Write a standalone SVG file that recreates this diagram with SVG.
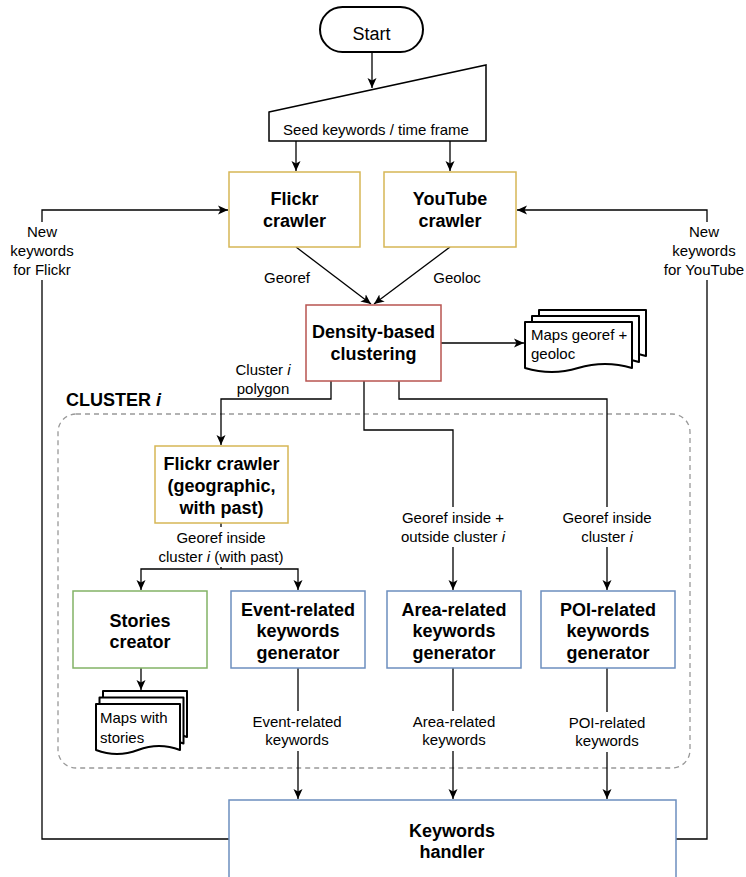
<svg xmlns="http://www.w3.org/2000/svg" width="746" height="877" viewBox="0 0 746 877">
<defs>
<marker id="arr" markerWidth="12" markerHeight="10" refX="10" refY="5" orient="auto" markerUnits="userSpaceOnUse">
<path d="M0,0.5 L10,5 L0,9.5 L2.5,5 Z" fill="#000"/>
</marker>
<style>
text{font-family:"Liberation Sans",Arial,Helvetica,sans-serif;fill:#000}
.b{font-size:18px;font-weight:bold;text-anchor:middle}
.l{font-size:15px;text-anchor:middle}
.d{font-size:15px}
.box{fill:#fff;stroke-width:1.5}
.y{stroke:#d6b656}.r{stroke:#b85450}.g{stroke:#82b366}.bl{stroke:#6c8ebf}
.e{fill:none;stroke:#000;stroke-width:1.3}
.ea{fill:none;stroke:#000;stroke-width:1.3;marker-end:url(#arr)}
.doc{fill:#fff;stroke:#000;stroke-width:2;stroke-linejoin:round}
.bg{fill:#fff}
</style>
</defs>
<rect width="746" height="877" fill="#fff"/>

<g id="cluster-container">
<rect x="58" y="414" width="632" height="354" rx="18" fill="none" stroke="#999" stroke-width="1.3" stroke-dasharray="5 4"/>
<text x="66" y="406" style="font-size:18px;font-weight:bold">CLUSTER <tspan font-style="italic">i</tspan></text>
</g>

<g id="connectors">
<path class="ea" d="M372,52 V88"/>
<path class="ea" d="M296,141 V171"/>
<path class="ea" d="M450,141 V171"/>
<path class="ea" d="M296,247 L371,304"/>
<path class="ea" d="M450,247 L374,304"/>
<path class="ea" d="M441,343 H524"/>
<path class="ea" d="M331,381 V399 H221 V445"/>
<path class="ea" d="M364,381 V430 H453 V590"/>
<path class="ea" d="M399,381 V399 H607 V590"/>
<path class="e" d="M221,523 V569"/>
<path class="ea" d="M221,569 H141 V590"/>
<path class="ea" d="M221,569 H298 V590"/>
<path class="ea" d="M141,668 V690"/>
<path class="ea" d="M298,668 V799"/>
<path class="ea" d="M453,668 V799"/>
<path class="ea" d="M607,668 V799"/>
<path class="ea" d="M229,839 H42 V210 H228"/>
<path class="ea" d="M676,839 H707 V210 H517"/>
</g>

<g id="edge-labels">
<rect class="bg" x="10" y="222" width="65" height="58"/>
<text class="l" x="42" y="237">New</text>
<text class="l" x="42" y="256">keywords</text>
<text class="l" x="42" y="275">for Flickr</text>
<rect class="bg" x="664" y="222" width="82" height="58"/>
<text class="l" x="704" y="237">New</text>
<text class="l" x="704" y="256">keywords</text>
<text class="l" x="704" y="275">for YouTube</text>
<text class="l" x="287" y="283">Georef</text>
<text class="l" x="457" y="283">Geoloc</text>
<text class="l" x="263" y="375">Cluster <tspan font-style="italic">i</tspan></text>
<text class="l" x="263" y="394">polygon</text>
<rect class="bg" x="394" y="507" width="118" height="40"/>
<text class="l" x="453" y="523">Georef inside +</text>
<text class="l" x="453" y="542">outside cluster <tspan font-style="italic">i</tspan></text>
<rect class="bg" x="560" y="507" width="94" height="40"/>
<text class="l" x="607" y="523">Georef inside</text>
<text class="l" x="607" y="542">cluster <tspan font-style="italic">i</tspan></text>
<rect class="bg" x="156" y="527" width="130" height="40"/>
<text class="l" x="221" y="543">Georef inside</text>
<text class="l" x="221" y="562">cluster <tspan font-style="italic">i</tspan> (with past)</text>
<rect class="bg" x="250" y="711" width="96" height="40"/>
<text class="l" x="297" y="727">Event-related</text>
<text class="l" x="297" y="745">keywords</text>
<rect class="bg" x="410" y="711" width="88" height="40"/>
<text class="l" x="454" y="727">Area-related</text>
<text class="l" x="454" y="745">keywords</text>
<rect class="bg" x="566" y="712" width="82" height="40"/>
<text class="l" x="607" y="728">POI-related</text>
<text class="l" x="607" y="746">keywords</text>
</g>

<g id="start">
<rect x="320" y="7" width="103" height="45" rx="22.5" fill="#fff" stroke="#000" stroke-width="2"/>
<text x="371.5" y="39.5" style="font-size:18px;text-anchor:middle">Start</text>
</g>

<g id="seed">
<polygon points="269,112 486,65 486,141 269,141" fill="#fff" stroke="#000" stroke-width="1.5"/>
<text class="l" x="376" y="135">Seed keywords / time frame</text>
</g>

<g id="flickr-crawler">
<rect class="box y" x="229" y="172" width="131" height="75"/>
<text class="b" x="294.5" y="205">Flickr</text>
<text class="b" x="294.5" y="227">crawler</text>
</g>

<g id="youtube-crawler">
<rect class="box y" x="384" y="172" width="132" height="75"/>
<text class="b" x="450" y="205">YouTube</text>
<text class="b" x="450" y="227">crawler</text>
</g>

<g id="clustering">
<rect class="box r" x="306" y="305" width="135" height="76"/>
<text class="b" x="373.5" y="338">Density-based</text>
<text class="b" x="373.5" y="360">clustering</text>
</g>

<g id="maps-georef">
<path class="doc" d="M539,310 H646 V356 Q619,348 592,356 Q566,364 539,356 Z"/>
<path class="doc" d="M532,316 H639 V362 Q612,354 585,362 Q559,370 532,362 Z"/>
<path class="doc" d="M525,322 H632 V368 Q605,360 578,368 Q552,376 525,368 Z"/>
<text class="d" x="531" y="340">Maps georef +</text>
<text class="d" x="531" y="359">geoloc</text>
</g>

<g id="flickr-geo">
<rect class="box y" x="155" y="446" width="133" height="77"/>
<text class="b" x="221.5" y="470">Flickr crawler</text>
<text class="b" x="221.5" y="492">(geographic,</text>
<text class="b" x="221.5" y="514">with past)</text>
</g>

<g id="stories-creator">
<rect class="box g" x="73" y="591" width="134" height="77"/>
<text class="b" x="140" y="626.5">Stories</text>
<text class="b" x="140" y="647.5">creator</text>
</g>

<g id="maps-stories">
<path class="doc" d="M103,691 H187 V737 Q166,729 145,737 Q124,745 103,737 Z"/>
<path class="doc" d="M99.5,697.5 H183.5 V743.5 Q162.5,735.5 141.5,743.5 Q120.5,751.5 99.5,743.5 Z"/>
<path class="doc" d="M96,704 H180 V750 Q159,742 138,750 Q117,758 96,750 Z"/>
<text class="d" x="100" y="723">Maps with</text>
<text class="d" x="100" y="743">stories</text>
</g>

<g id="event-generator">
<rect class="box bl" x="231" y="591" width="134" height="77"/>
<text class="b" x="298" y="615.5">Event-related</text>
<text class="b" x="298" y="636.5">keywords</text>
<text class="b" x="298" y="658.5">generator</text>
</g>

<g id="area-generator">
<rect class="box bl" x="387" y="591" width="134" height="77"/>
<text class="b" x="454" y="615.5">Area-related</text>
<text class="b" x="454" y="636.5">keywords</text>
<text class="b" x="454" y="658.5">generator</text>
</g>

<g id="poi-generator">
<rect class="box bl" x="541" y="591" width="134" height="77"/>
<text class="b" x="608" y="615.5">POI-related</text>
<text class="b" x="608" y="636.5">keywords</text>
<text class="b" x="608" y="658.5">generator</text>
</g>

<g id="keywords-handler">
<rect class="box bl" x="229" y="800" width="447" height="100"/>
<text class="b" x="452" y="836.5">Keywords</text>
<text class="b" x="452" y="857.5">handler</text>
</g>
</svg>
